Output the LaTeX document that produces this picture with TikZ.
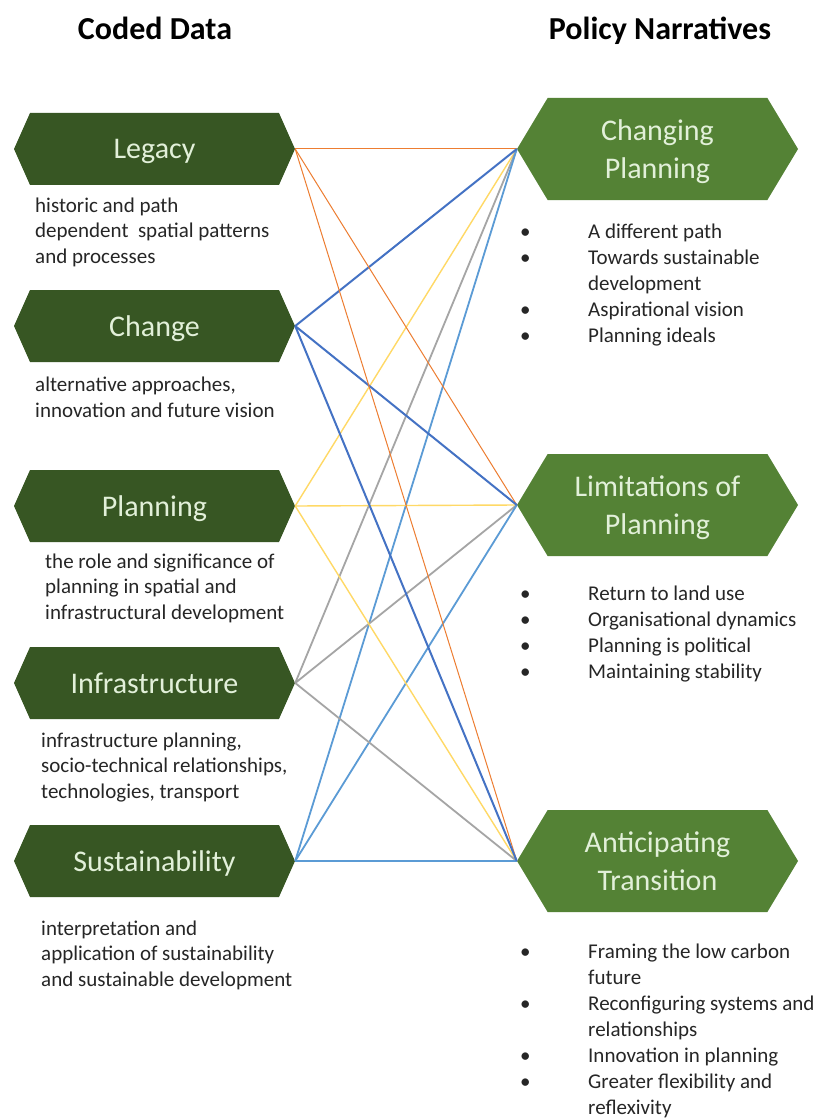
\documentclass[tikz,border=0pt]{standalone}
\usepackage{fontspec}
\setmainfont{Carlito}
\usetikzlibrary{shapes.symbols}

\definecolor{codegreen}{HTML}{375623}
\definecolor{narrgreen}{HTML}{548235}
\definecolor{hexfont}{HTML}{E2F0D9}
\definecolor{bodyfont}{HTML}{262626}
\definecolor{legacycol}{HTML}{ED7D31}
\definecolor{changecol}{HTML}{4472C4}
\definecolor{planningcol}{HTML}{FFD966}
\definecolor{infracol}{HTML}{A5A5A5}
\definecolor{sustcol}{HTML}{5B9BD5}

\tikzset{
  codehex/.style={signal, signal to=west and east, signal pointer angle=132,
    fill=codegreen, text=hexfont, minimum width=281pt, minimum height=72pt,
    inner sep=0pt, text depth=0pt, font=\fontsize{30}{36}\selectfont},
  narrhex/.style={signal, signal to=west and east, signal pointer angle=118,
    fill=narrgreen, text=hexfont, minimum width=281pt, minimum height=102pt,
    inner sep=0pt, text depth=0pt, align=center, font=\fontsize{30}{38}\selectfont},
  heading/.style={anchor=base, inner sep=0pt, font=\fontsize{32}{36}\selectfont\bfseries},
  desc/.style={anchor=base west, align=left, inner sep=0pt, text=bodyfont,
    font=\fontsize{21}{25.5}\selectfont},
  points/.style={anchor=base west, inner sep=0pt, text=bodyfont,
    font=\fontsize{21}{26}\selectfont},
}
% bullet column + item column, base on the first row
\newcommand{\pointlist}[1]{\begin{tabular}[t]{@{}p{68pt}@{}l@{}}#1\end{tabular}}

\begin{document}
\begin{tikzpicture}[x=1pt, y=-1pt]
  \useasboundingbox[fill=white] (0,0) rectangle (825,1118);

  \node[heading] (codedtitle) at (155,40) {Coded Data};
  \node[heading] (narrtitle) at (660,40) {Policy Narratives};

  % coded data
  \node[codehex] (legacy) at (154.5,149) {Legacy};
  \node[codehex] (change) at (154.5,326) {Change};
  \node[codehex] (planning) at (154.5,506) {Planning};
  \node[codehex] (infra) at (154.5,683) {Infrastructure};
  \node[codehex] (sust) at (154.5,861) {Sustainability};

  % (base = last line)
  \node[desc] (legacytext) at (35,263) {historic and path\\dependent\ \ spatial patterns\\and processes};
  \node[desc] (changetext) at (35,417) {alternative approaches,\\innovation and future vision};
  \node[desc] (planningtext) at (45,619) {the role and significance of\\planning in spatial and\\infrastructural development};
  \node[desc] (infratext) at (41,798) {infrastructure planning,\\socio-technical relationships,\\technologies, transport};
  \node[desc] (susttext) at (41,986) {interpretation and\\application of sustainability\\and sustainable development};

  % policy narratives
  \node[narrhex] (cp) at (657.5,149) {Changing\\Planning};
  \node[narrhex] (lp) at (657.5,505) {Limitations of\\Planning};
  \node[narrhex] (at) at (657.5,861) {Anticipating\\Transition};

  \node[points] (cptext) at (520,238) {\pointlist{%
    • & A different path\\
    • & Towards sustainable\\
      & development\\
    • & Aspirational vision\\
    • & Planning ideals}};
  \node[points] (lptext) at (520,600) {\pointlist{%
    • & Return to land use\\
    • & Organisational dynamics\\
    • & Planning is political\\
    • & Maintaining stability}};
  \node[points] (attext) at (520,958) {\pointlist{%
    • & Framing the low carbon\\
      & future\\
    • & Reconfiguring systems and\\
      & relationships\\
    • & Innovation in planning\\
    • & Greater flexibility and\\
      & reflexivity}};

  % links
  \foreach \t in {cp,lp,at} {
    \draw[legacycol, line width=1pt] (legacy.east) -- (\t.west);
    \draw[planningcol, line width=1.4pt] (planning.east) -- (\t.west);
    \draw[infracol, line width=1.8pt] (infra.east) -- (\t.west);
    \draw[sustcol, line width=1.8pt] (sust.east) -- (\t.west);
    \draw[changecol, line width=2pt] (change.east) -- (\t.west);
  }
\end{tikzpicture}
\end{document}
